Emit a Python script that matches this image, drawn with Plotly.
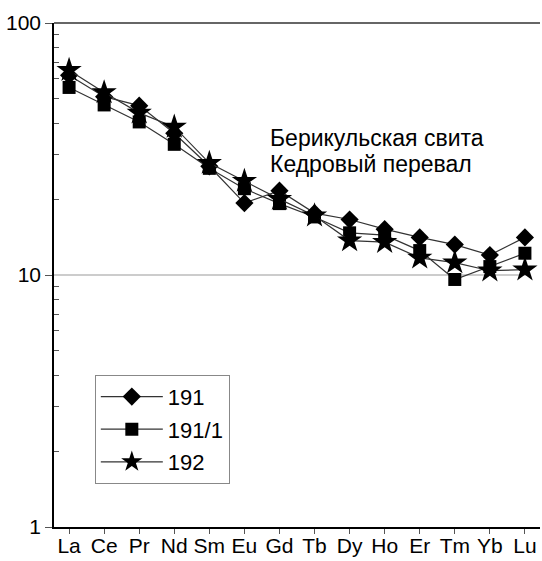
import plotly.graph_objects as go

# Chondrite-normalised REE patterns
elements = ["La", "Ce", "Pr", "Nd", "Sm", "Eu", "Gd", "Tb", "Dy", "Ho", "Er", "Tm", "Yb", "Lu"]

s191 = [62, 51, 47, 36.5, 27, 19.3, 21.6, 17.6, 16.6, 15.2, 14.1, 13.2, 12.0, 14.1]
s191_1 = [55.5, 47.3, 40.5, 33, 26.5, 22, 19.2, 17.0, 14.7, 14.4, 12.5, 9.6, 10.8, 12.2]
s192 = [65, 53, 44, 38.7, 27.8, 23.6, 20, 17.2, 13.7, 13.5, 11.7, 11.2, 10.4, 10.5]

series = [
    ("191", s191, "diamond", 14),
    ("191/1", s191_1, "square", 13),
    ("192", s192, "star", 19),
]

y_major = [1, 10, 100]
y_minor = [2, 3, 4, 5, 6, 7, 8, 9, 20, 30, 40, 50, 60, 70, 80, 90]

FONT = "Liberation Sans, Arial, sans-serif"

fig = go.Figure()
for i, (name, vals, sym, size) in enumerate(series):
    fig.add_trace(go.Scatter(
        x=elements, y=vals, name=name, mode="lines+markers",
        line=dict(color="#333333", width=1.2),
        marker=dict(symbol=sym, size=size, color="black", line=dict(width=0)),
        legendgroup=f"g{i}",
    ))

fig.update_layout(
    width=542, height=561,
    margin=dict(l=54, r=2, t=23, b=34),
    paper_bgcolor="white", plot_bgcolor="white",
    font=dict(family=FONT, size=21, color="black"),
    showlegend=True,
    legend=dict(
        x=0.084, y=0.302, xanchor="left", yanchor="top",
        bordercolor="#888888", borderwidth=1, bgcolor="white",
        font=dict(family=FONT, size=22),
        tracegroupgap=1, itemwidth=62,
    ),
    xaxis=dict(
        type="category", range=[-0.43, 13.43], automargin=False,
        showline=True, linecolor="black", linewidth=1.5,
        ticks="outside", ticklen=5, tickcolor="#555555",
        ticklabelstandoff=-6,
        showgrid=False, zeroline=False,
        tickfont=dict(family=FONT, size=21),
    ),
    yaxis=dict(
        type="log", range=[0, 2], automargin=False,
        tickvals=y_major, ticktext=[str(v) for v in y_major],
        showline=True, linecolor="black", linewidth=1.5,
        ticks="outside", ticklen=7, tickcolor="#555555",
        showgrid=False, zeroline=False,
        tickfont=dict(family=FONT, size=21),
        minor=dict(tickvals=y_minor, ticks="inside", ticklen=5, tickcolor="#555555", showgrid=False),
    ),
)

# gridline at 10 and top frame
fig.add_shape(type="line", xref="paper", yref="y", x0=0, x1=0.975, y0=10, y1=10,
              line=dict(color="#999999", width=1), layer="below")
fig.add_shape(type="line", xref="paper", yref="paper", x0=0, x1=1, y0=1, y1=1,
              line=dict(color="#666666", width=2))

fig.add_annotation(text="Берикульская свита", xref="paper", yref="paper",
                   x=0.44, y=0.772, xanchor="left", yanchor="middle", showarrow=False,
                   font=dict(family=FONT, size=23))
fig.add_annotation(text="Кедровый перевал", xref="paper", yref="paper",
                   x=0.44, y=0.72, xanchor="left", yanchor="middle", showarrow=False,
                   font=dict(family=FONT, size=23))

fig.write_html("out.html")
